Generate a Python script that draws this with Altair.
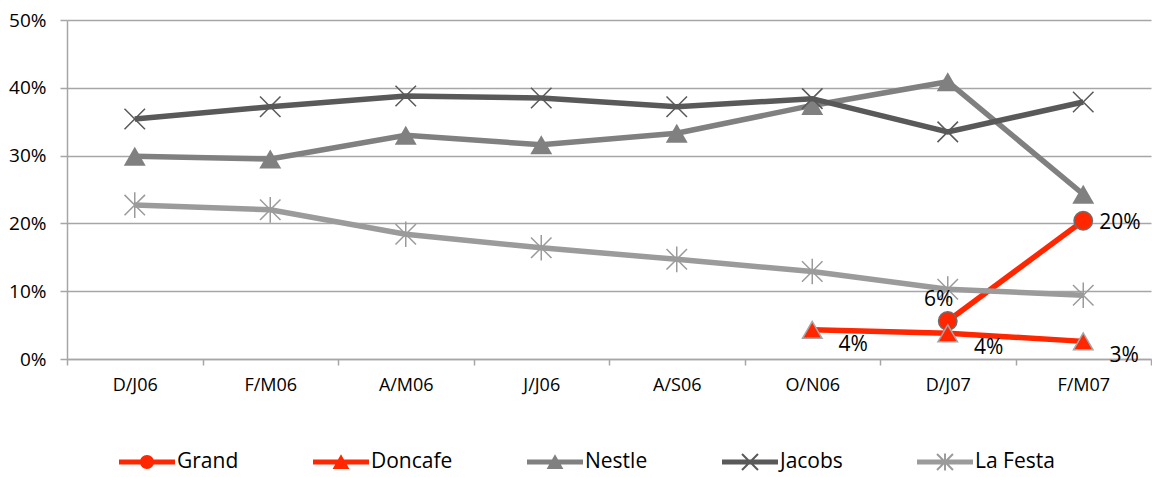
import altair as alt
import pandas as pd

categories = ["D/J06", "F/M06", "A/M06", "J/J06", "A/S06", "O/N06", "D/J07", "F/M07"]
series_names = ["Grand", "Doncafe", "Nestle", "Jacobs", "La Festa"]
grand = [None, None, None, None, None, None, 5.6, 20.4]
doncafe = [None, None, None, None, None, 4.3, 3.8, 2.6]
nestle = [29.9, 29.5, 33.0, 31.6, 33.3, 37.4, 40.9, 24.3]
jacobs = [35.4, 37.2, 38.8, 38.5, 37.2, 38.4, 33.5, 37.9]
la_festa = [22.7, 22.0, 18.4, 16.4, 14.7, 12.9, 10.3, 9.4]
series_colors = ["#FF2600", "#FF2600", "#808080", "#595959", "#9B9B9B"]
y_ticks = [0, 0.1, 0.2, 0.3, 0.4, 0.5]

FONT = "Open Sans"
GRID = "#A6A6A6"

rows = []
for name, vals in zip(series_names, [grand, doncafe, nestle, jacobs, la_festa]):
    for cat, v in zip(categories, vals):
        if v is not None:
            rows.append({"period": cat, "series": name, "share": v / 100})
df = pd.DataFrame(rows)
df_legend = pd.DataFrame({"series": series_names})

x_enc = alt.X(
    "period:N",
    sort=categories,
    bandPosition=0.5,
    scale=alt.Scale(type="band", domain=categories, paddingInner=0, paddingOuter=0),
    axis=alt.Axis(
        title=None, tickBand="extent", tickSize=6, tickColor=GRID, tickWidth=1.5,
        domainColor=GRID, domainWidth=1.5, grid=False, labelAngle=0,
        labelFont=FONT, labelFontSize=18, labelColor="#000000", labelPadding=11,
    ),
)
y_enc = alt.Y(
    "share:Q",
    scale=alt.Scale(domain=[0, 0.5]),
    axis=alt.Axis(
        title=None, values=y_ticks, format=".0%", tickSize=7, tickColor=GRID,
        tickWidth=1.5, domainColor=GRID, domainWidth=1.5, grid=True, gridColor=GRID,
        gridWidth=1.5, labelFont=FONT, labelFontSize=19, labelColor="#000000",
        labelPadding=14,
    ),
)

base = alt.Chart(df).encode(x=x_enc, y=y_enc)


def only(name):
    return alt.datum.series == name


marker_styles = {
    "Grand": dict(shape="circle", filled=True, size=340, fill="#FF2600",
                  stroke="#6E6E6E", strokeWidth=1.5),
    "Doncafe": dict(shape="triangle-up", filled=True, size=380, fill="#FF2600",
                    stroke="#A6A6A6", strokeWidth=1.5),
    "Nestle": dict(shape="triangle-up", filled=True, size=480, fill="#808080",
                   strokeWidth=0),
    "Jacobs": dict(shape="M-1,-1L1,1M-1,1L1,-1", filled=False, size=420,
                   stroke="#595959", strokeWidth=1.5),
    "La Festa": dict(shape="M-1,-1L1,1M-1,1L1,-1M0,-1.25L0,1.25", filled=False,
                     size=420, stroke="#9B9B9B", strokeWidth=1.5),
}

layers = []
for name, col in zip(series_names, series_colors):
    sub = base.transform_filter(only(name))
    layers.append(sub.mark_line(strokeWidth=5.5, color=col))
    layers.append(sub.mark_point(opacity=1, **marker_styles[name]))

label_text = alt.Text("share:Q", format=".0%")
t_grand1 = base.transform_filter(
    (alt.datum.series == "Grand") & (alt.datum.period == "D/J07")
).mark_text(font=FONT, fontSize=21, dx=-9, dy=-21, color="#000000").encode(text=label_text)
t_grand2 = base.transform_filter(
    (alt.datum.series == "Grand") & (alt.datum.period == "F/M07")
).mark_text(font=FONT, fontSize=21, dx=16, dy=2, align="left", color="#000000").encode(text=label_text)
t_doncafe = base.transform_filter(only("Doncafe")).mark_text(
    font=FONT, fontSize=21, dx=41, dy=15, color="#000000").encode(text=label_text)
layers += [t_grand1, t_grand2, t_doncafe]

# legend symbols: line segment plus marker, in unit coordinates
line_part = "M-2,-0.18L2,-0.18L2,0.18L-2,0.18Z"
circle_part = "M0.5,0A0.5,0.5 0 1,1 -0.5,0A0.5,0.5 0 1,1 0.5,0Z"
tri_part = "M0,-0.55L0.6,0.5L-0.6,0.5Z"
x_part = ("M-0.52,-0.62L0.62,0.52L0.52,0.62L-0.62,-0.52Z"
          "M-0.52,0.62L-0.62,0.52L0.52,-0.62L0.62,-0.52Z")
vbar_part = "M-0.07,-0.6L0.07,-0.6L0.07,0.6L-0.07,0.6Z"
legend_shapes = [
    line_part + circle_part,
    line_part + tri_part,
    line_part + tri_part,
    line_part + x_part,
    line_part + x_part + vbar_part,
]

legend_def = alt.Legend(
    title=None, orient="none", legendX=66, legendY=428, direction="horizontal",
    columns=5, symbolSize=784, symbolStrokeWidth=0, symbolOpacity=1,
    labelFont=FONT, labelFontSize=21, labelColor="#000000", labelOffset=16,
    columnPadding=74, labelLimit=300,
)
legend_layer = alt.Chart(df_legend).mark_point(filled=True, clip=True, strokeWidth=0).encode(
    x=alt.value(10),
    y=alt.value(-300),
    fill=alt.Fill("series:N", scale=alt.Scale(domain=series_names, range=series_colors),
                  legend=legend_def),
    shape=alt.Shape("series:N", scale=alt.Scale(domain=series_names, range=legend_shapes),
                    legend=legend_def),
)
layers.append(legend_layer)

chart = alt.layer(*layers).properties(
    width=1084, height=339,
    autosize=alt.AutoSizeParams(type="none"),
    padding={"left": 67, "top": 20, "right": 1, "bottom": 118},
    background="#FFFFFF",
).configure_view(stroke=None)

chart.save("out.html", embed_options={"renderer": "svg", "actions": False})
